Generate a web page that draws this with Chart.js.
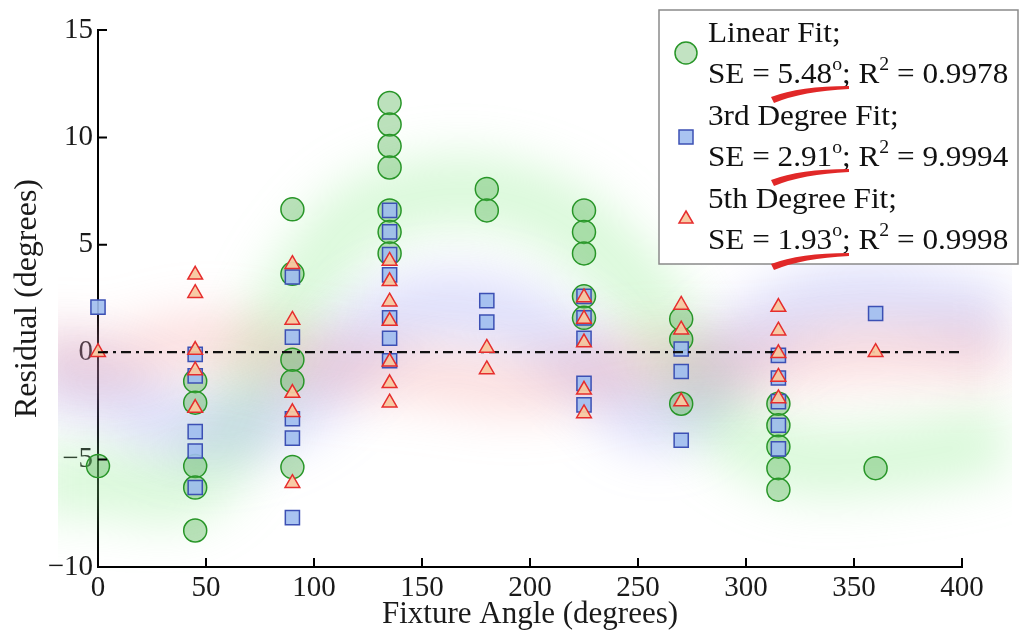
<!DOCTYPE html>
<html>
<head>
<meta charset="utf-8">
<script src="https://cdn.jsdelivr.net/npm/chart.js@4.4.1/dist/chart.umd.min.js"></script>
<style>
  html, body { margin: 0; padding: 0; background: #ffffff; }
  #wrap { width: 1020px; height: 635px; position: relative; }
</style>
</head>
<body>
<div id="wrap"><canvas id="c"></canvas></div>
<script>
// ---------- data ----------
const linearX = [0, 45,45,45,45,45, 90,90,90,90,90, 135,135,135,135,135,135,135, 180,180, 225,225,225,225,225, 270,270,270, 315,315,315,315,315, 360];
const linearY = [-5.3, -1.35,-2.35,-5.3,-6.3,-8.3, 6.65,3.65,-0.35,-1.35,-5.35, 11.6,10.6,9.6,8.6,6.6,5.6,4.6, 7.6,6.6, 6.6,5.6,4.6,2.6,1.6, 1.55,0.6,-2.4, -2.4,-3.4,-4.4,-5.4,-6.4, -5.4];

const cubicX = [0, 45,45,45,45,45, 90,90,90,90,90, 135,135,135,135,135,135,135, 180,180, 225,225,225,225,225, 270,270,270, 315,315,315,315,315, 360];
const cubicY = [2.1, -0.1,-1.1,-3.7,-4.6,-6.3, 3.5,0.7,-3.1,-4.0,-7.7, 6.6,5.6,4.55,3.6,1.6,0.65,-0.4, 2.4,1.4, 2.6,1.6,0.65,-1.45,-2.45, 0.15,-0.9,-4.1, -0.15,-1.2,-2.3,-3.4,-4.5, 1.8];

const quinticX = [0, 45,45,45,45,45, 90,90,90,90,90, 135,135,135,135,135,135,135, 180,180, 225,225,225,225,225, 270,270,270, 315,315,315,315,315, 360];
const quinticY = [0, 3.6,2.75,0.1,-0.85,-2.6, 4.1,1.5,-1.9,-2.8,-6.1, 4.25,3.3,2.35,1.45,-0.45,-1.45,-2.35, 0.2,-0.8, 2.55,1.55,0.45,-1.75,-2.85, 2.2,1.05,-2.3, 2.1,1.0,-0.05,-1.15,-2.15, 0];

const zeroX = [0, 400];
const zeroY = [0, 0];

// soft background glows (estimated centre lines)
const greenGlowX = [-30, 0, 45, 75, 100, 135, 200, 250, 280, 315, 360, 420];
const greenGlowY = [-6, -6, -6, -1, 4, 7, 7, 3, -2, -4.8, -5, -4];
const blueGlowX = [-30, 0, 45, 90, 135, 180, 220, 260, 300, 345, 420];
const blueGlowY = [-1, -1.5, -3.5, -2.5, 1.5, 2, 0, -3, 0.5, 2.5, 1.5];
const redGlowX = [-30, 0, 50, 100, 150, 200, 250, 300, 350, 420];
const redGlowY = [0, -0.5, 0.5, -0.5, -1, -1.5, -0.5, -0.5, 0, 0];

const xTicks = [0, 50, 100, 150, 200, 250, 300, 350, 400];
const yTicks = [-10, -5, 0, 5, 10, 15];

const legendLines = [
  { title: 'Linear Fit;', se: '5.48', r2: '0.9978' },
  { title: '3rd Degree Fit;', se: '2.91', r2: '9.9994' },
  { title: '5th Degree Fit;', se: '1.93', r2: '0.9998' }
];

// ---------- helpers ----------
const FONT = '"Liberation Serif", "Times New Roman", serif';
const pts = (xs, ys) => xs.map((x, i) => ({ x: x, y: ys[i] }));

const glowPlugin = {
  id: 'glow',
  beforeDatasetDraw(chart, args) {
    const ds = chart.data.datasets[args.index];
    if (ds.glow) { chart.ctx.save(); chart.ctx.filter = 'blur(' + ds.glow + 'px)'; }
  },
  afterDatasetDraw(chart, args) {
    const ds = chart.data.datasets[args.index];
    if (ds.glow) { chart.ctx.restore(); }
  }
};

const innerTicks = {
  id: 'innerTicks',
  afterDatasetsDraw(chart) {
    const { ctx, chartArea, scales } = chart;
    ctx.save();
    ctx.strokeStyle = '#000';
    ctx.lineWidth = 2;
    ctx.beginPath();
    xTicks.forEach(v => {
      if (v === 0) return;
      const px = scales.x.getPixelForValue(v);
      ctx.moveTo(px, chartArea.bottom);
      ctx.lineTo(px, chartArea.bottom - 9);
    });
    yTicks.forEach(v => {
      if (v === -10) return;
      const py = scales.y.getPixelForValue(v);
      ctx.moveTo(chartArea.left, py);
      ctx.lineTo(chartArea.left + 9, py);
    });
    ctx.stroke();
    ctx.restore();
  }
};

function richText(ctx, x, y, parts, size) {
  let cx = x;
  parts.forEach(p => {
    const sup = p[1];
    ctx.font = (sup ? Math.round(size * 0.64) : size) + 'px ' + FONT;
    ctx.fillText(p[0], cx, sup ? y - size * 0.42 : y);
    cx += ctx.measureText(p[0]).width;
  });
}

const legendPlugin = {
  id: 'customLegend',
  afterDraw(chart) {
    const ctx = chart.ctx;
    ctx.save();
    ctx.fillStyle = '#ffffff';
    ctx.fillRect(659, 10, 359, 254);
    ctx.strokeStyle = '#8a8a8a';
    ctx.lineWidth = 1.5;
    ctx.strokeRect(659, 10, 359, 254);

    // markers
    ctx.lineWidth = 1.5;
    ctx.beginPath(); ctx.arc(686, 53, 11, 0, Math.PI * 2);
    ctx.fillStyle = 'rgba(80,175,80,0.35)'; ctx.fill();
    ctx.strokeStyle = 'rgb(40,150,40)'; ctx.stroke();

    ctx.beginPath(); ctx.rect(679, 130, 14, 14);
    ctx.fillStyle = 'rgba(160,190,240,0.9)'; ctx.fill();
    ctx.strokeStyle = 'rgb(60,80,180)'; ctx.stroke();

    ctx.beginPath();
    ctx.moveTo(686, 211); ctx.lineTo(693, 223); ctx.lineTo(679, 223); ctx.closePath();
    ctx.fillStyle = 'rgba(248,200,160,0.95)'; ctx.fill();
    ctx.strokeStyle = 'rgb(230,45,45)'; ctx.stroke();

    // text
    ctx.fillStyle = '#111';
    ctx.textBaseline = 'alphabetic';
    ctx.textAlign = 'left';
    const size = 30;
    const base = [42, 83, 125, 166, 208, 249];
    legendLines.forEach((l, i) => {
      ctx.save();
      ctx.translate(708, 0); ctx.scale(1.04, 1);
      richText(ctx, 0, base[i * 2], [[l.title, false]], size);
      richText(ctx, 0, base[i * 2 + 1], [['SE = ' + l.se, false], ['o', true], ['; R', false], ['2', true], [' = ' + l.r2, false]], size);
      ctx.restore();
    });

    // red hand-drawn underlines
    ctx.fillStyle = 'rgb(225,40,40)';
    [0, 83, 167].forEach(off => {
      ctx.beginPath();
      ctx.moveTo(771, 97 + off);
      ctx.quadraticCurveTo(800, 86 + off, 849, 86 + off);
      ctx.lineTo(849, 89 + off);
      ctx.quadraticCurveTo(803, 91 + off, 774, 103 + off);
      ctx.closePath();
      ctx.fill();
    });
    ctx.restore();
  }
};

const tickFont = { family: FONT, size: 29 };
const titleFont = { family: FONT, size: 31 };

new Chart(document.getElementById('c'), {
  type: 'scatter',
  data: {
    datasets: [
      { label: 'Linear Fit', data: pts(linearX, linearY), order: 4, clip: false,
        pointStyle: 'circle', pointRadius: 11.5, pointHoverRadius: 11.5,
        backgroundColor: 'rgba(80,175,80,0.38)', borderColor: 'rgb(40,150,40)', borderWidth: 1.5 },
      { label: '3rd Degree Fit', data: pts(cubicX, cubicY), order: 3, clip: false,
        pointStyle: 'rect', pointRadius: 10, pointHoverRadius: 10,
        backgroundColor: 'rgba(160,190,240,0.9)', borderColor: 'rgb(60,80,180)', borderWidth: 1.5 },
      { label: 'zero', type: 'line', data: pts(zeroX, zeroY), order: 2,
        borderColor: '#111', borderWidth: 2.2, borderDash: [10, 5, 3, 5], pointRadius: 0, showLine: true },
      { label: '5th Degree Fit', data: pts(quinticX, quinticY), order: 1, clip: false,
        pointStyle: 'triangle', pointRadius: 8.5, pointHoverRadius: 8.5,
        backgroundColor: 'rgba(248,200,160,0.95)', borderColor: 'rgb(230,45,45)', borderWidth: 1.5 },
      { label: 'gG', type: 'line', data: pts(greenGlowX, greenGlowY), order: 12, glow: 24,
        borderColor: 'rgba(140,235,140,0.32)', borderWidth: 70, tension: 0.4, pointRadius: 0, showLine: true,
        clip: { left: 40, right: 50, top: 0, bottom: 6 } },
      { label: 'bG', type: 'line', data: pts(blueGlowX, blueGlowY), order: 11, glow: 24,
        borderColor: 'rgba(140,145,240,0.28)', borderWidth: 70, tension: 0.4, pointRadius: 0, showLine: true,
        clip: { left: 40, right: 50, top: 0, bottom: 6 } },
      { label: 'rG', type: 'line', data: pts(redGlowX, redGlowY), order: 10, glow: 24,
        borderColor: 'rgba(245,140,140,0.28)', borderWidth: 60, tension: 0.4, pointRadius: 0, showLine: true,
        clip: { left: 40, right: 50, top: 0, bottom: 6 } }
    ]
  },
  options: {
    responsive: true,
    maintainAspectRatio: false,
    animation: false,
    devicePixelRatio: 1,
    layout: { padding: { top: 30, right: 58, left: 0, bottom: 0 } },
    plugins: { legend: { display: false }, tooltip: { enabled: false } },
    scales: {
      x: {
        type: 'linear', min: 0, max: 400,
        afterBuildTicks: s => { s.ticks = xTicks.map(v => ({ value: v })); },
        ticks: { font: tickFont, color: '#1a1a1a', padding: 4, maxRotation: 0, autoSkip: false },
        grid: { display: false, drawTicks: false },
        border: { display: true, color: '#000', width: 2 },
        title: { display: true, text: 'Fixture Angle (degrees)', font: titleFont, color: '#1a1a1a', padding: { top: 0, bottom: 2 } },
        afterFit: s => { s.height = 68; }
      },
      y: {
        type: 'linear', min: -10, max: 15,
        afterBuildTicks: s => { s.ticks = yTicks.map(v => ({ value: v })); },
        ticks: { font: tickFont, color: '#1a1a1a', padding: 5, autoSkip: false,
                 callback: v => String(v).replace('-', '\u2212') },
        grid: { display: false, drawTicks: false },
        border: { display: true, color: '#000', width: 2 },
        title: { display: true, text: 'Residual (degrees)', font: { family: FONT, size: 32 }, color: '#1a1a1a', padding: { top: 8, bottom: 0 } },
        afterFit: s => { s.width = 98; }
      }
    }
  },
  plugins: [glowPlugin, innerTicks, legendPlugin]
});
</script>
</body>
</html>
